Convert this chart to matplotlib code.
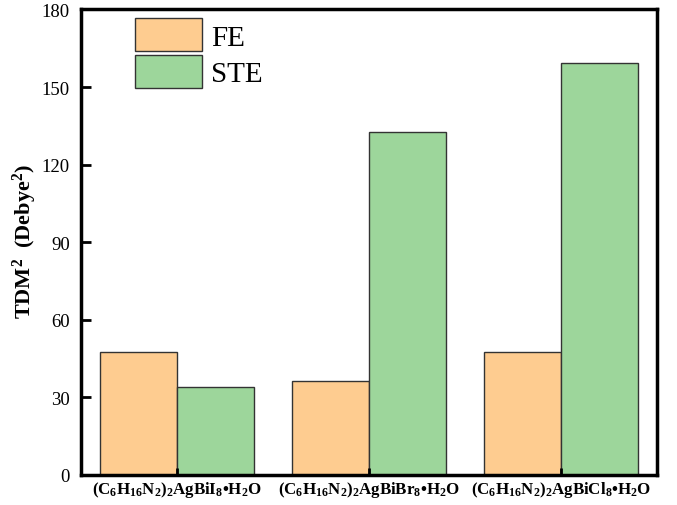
import matplotlib
matplotlib.use('Agg')
import matplotlib.pyplot as plt
import numpy as np

# TDM^2 values for free exciton (FE) and self-trapped exciton (STE)
compounds = [
    r'(C$_6$H$_{16}$N$_2$)$_2$AgBiI$_8$•H$_2$O',
    r'(C$_6$H$_{16}$N$_2$)$_2$AgBiBr$_8$•H$_2$O',
    r'(C$_6$H$_{16}$N$_2$)$_2$AgBiCl$_8$•H$_2$O',
]
fe_vals = [47.4, 36.3, 47.4]
ste_vals = [33.9, 132.7, 159.3]
yticks = [0, 30, 60, 90, 120, 150, 180]

plt.rcParams['font.family'] = ['Liberation Serif', 'DejaVu Serif']
plt.rcParams['mathtext.fontset'] = 'custom'
plt.rcParams['mathtext.rm'] = 'Liberation Serif:bold'
plt.rcParams['mathtext.it'] = 'Liberation Serif:bold'
plt.rcParams['mathtext.bf'] = 'Liberation Serif:bold'

fig = plt.figure(figsize=(6.77, 5.06), dpi=100)
ax = fig.add_axes([0.1196, 0.0593, 0.8509, 0.9200])

x = np.arange(len(compounds))
w = 0.4
ax.bar(x - w / 2, fe_vals, w, color='#FECC90', edgecolor='#333333', linewidth=1.0, label='FE')
ax.bar(x + w / 2, ste_vals, w, color='#9DD69B', edgecolor='#333333', linewidth=1.0, label='STE')

ax.set_xlim(-0.5, 2.5)
ax.set_ylim(0, 180)
ax.set_yticks(yticks)
ax.set_xticks(x)
ax.set_xticklabels(compounds, fontsize=12.2, fontweight='bold')
ax.tick_params(axis='y', direction='in', length=7, width=2, labelsize=13.5, pad=8)
ax.tick_params(axis='x', direction='in', length=5, width=2, pad=3)
for s in ax.spines.values():
    s.set_linewidth(2.5)

ax.set_ylabel(r'TDM$^2$  (Debye$^2$)', fontsize=16, fontweight='bold')
ax.yaxis.set_label_coords(-0.072, 0.505)

ax.legend(loc='upper left', bbox_to_anchor=(0.094, 0.981), frameon=False,
          fontsize=21, handlelength=2.3, handleheight=1.37, labelspacing=0.12,
          handletextpad=0.3, borderaxespad=0, borderpad=0)

fig.savefig('out.png', dpi=100)
